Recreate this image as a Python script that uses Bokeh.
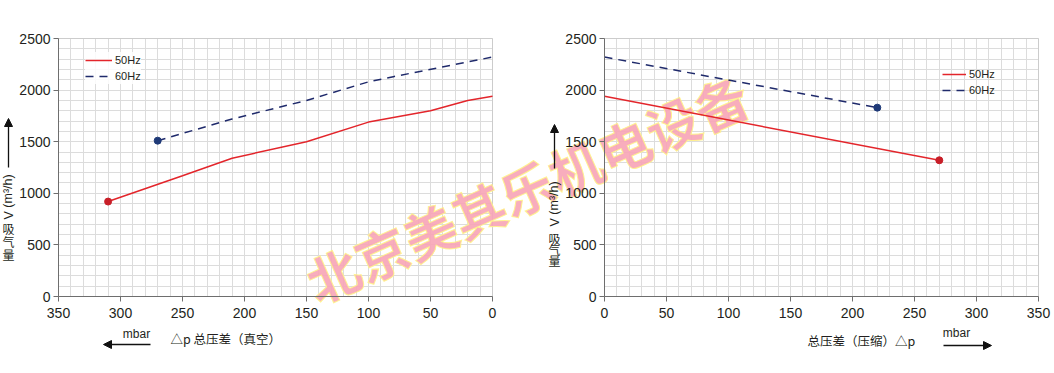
from bokeh.plotting import figure
from bokeh.models import (Range1d, SingleIntervalTicker, Label, Arrow, NormalHead,
                          Legend, LegendItem, LinearAxis, Grid, BoxAnnotation)
from bokeh.embed import file_html
from bokeh.resources import INLINE

# ---- data ----
vac_50_dp = [310, 250, 210, 150, 100, 50, 20, 0]
vac_50_q = [920, 1170, 1340, 1500, 1690, 1800, 1900, 1940]
vac_60_dp = [270, 210, 150, 100, 80, 0]
vac_60_q = [1510, 1720, 1900, 2080, 2130, 2320]

cmp_50_dp = [0, 270]
cmp_50_q = [1940, 1320]
cmp_60_dp = [0, 220]
cmp_60_q = [2320, 1830]

x_ticks = [0, 50, 100, 150, 200, 250, 300, 350]
y_ticks = [0, 500, 1000, 1500, 2000, 2500]
X_MAX, Y_MAX = 350, 2500
series_names = ["50Hz", "60Hz"]
watermark = "北京美其乐机电设备"

# ---- layout (pixels) ----
W, H = 1054, 373
BOX_T, BOX_B = 38, 296
L_X0, L_X1 = 58, 492      # left panel box (x=350 .. x=0)
R_X0, R_X1 = 604, 1038    # right panel box (x=0 .. x=350)

RED = "#e3252b"
NAVY = "#1f2a6b"
FONT = "Liberation Sans"
CJK = "Noto Sans CJK SC"
GRID = "#dcdcdc"
AXIS = "#6e6e6e"

ppx = (L_X1 - L_X0) / X_MAX
ppy = (BOX_B - BOX_T) / Y_MAX
xr_left = Range1d(X_MAX + L_X0 / ppx, X_MAX - (W - L_X0) / ppx)
xr_right = Range1d(-R_X0 / ppx, (W - R_X0) / ppx)
yr = Range1d(-(H - BOX_B) / ppy, Y_MAX + BOX_T / ppy)

p = figure(width=W, height=H, x_range=xr_left, y_range=yr, title=None,
           output_backend="svg", toolbar_location=None, min_border=0)
p.extra_x_ranges = {"right": xr_right}
p.outline_line_color = None
p.background_fill_color = "white"
p.border_fill_color = "white"
p.grid.visible = False

# axes
xa_l, ya_l = p.xaxis[0], p.yaxis[0]
xa_r = LinearAxis(x_range_name="right")
ya_r = LinearAxis(x_range_name="right")
p.add_layout(xa_r, "below")
p.add_layout(ya_r, "left")
xa_l.fixed_location = 0
xa_r.fixed_location = 0
ya_l.fixed_location = X_MAX
ya_r.fixed_location = 0
for ax in (xa_l, xa_r):
    ax.ticker = x_ticks
    ax.bounds = (0, X_MAX)
    ax.major_label_standoff = 6
for ax in (ya_l, ya_r):
    ax.ticker = y_ticks
    ax.bounds = (0, Y_MAX)
    ax.major_label_standoff = 3
for ax in (xa_l, xa_r, ya_l, ya_r):
    ax.axis_line_color = AXIS
    ax.major_tick_line_color = AXIS
    ax.major_tick_out = 5
    ax.major_tick_in = 0
    ax.minor_tick_line_color = None
    ax.major_label_text_font = FONT
    ax.major_label_text_font_size = "14px"
    ax.major_label_text_color = "#231f20"

# grids
need_masks = False
for xname in ("default", "right"):
    for dim, step, bnd, cross in ((0, 10, (0, X_MAX), (0, Y_MAX)),
                                  (1, 100, (0, Y_MAX), (0, X_MAX))):
        g = Grid(dimension=dim, ticker=SingleIntervalTicker(interval=step),
                 bounds=bnd, x_range_name=xname, grid_line_color=GRID,
                 grid_line_width=1, level="image")
        try:
            g.cross_bounds = cross
        except Exception:
            need_masks = True
        p.add_layout(g)

if need_masks:
    gap_left = -(R_X0 - L_X1) / ppx
    masks = [BoxAnnotation(bottom=Y_MAX), BoxAnnotation(top=0),
             BoxAnnotation(right=X_MAX),
             BoxAnnotation(left=gap_left, right=0, x_range_name="right"),
             BoxAnnotation(left=X_MAX, x_range_name="right")]
    for m in masks:
        m.fill_color = "white"
        m.fill_alpha = 1
        m.line_color = None
        m.level = "underlay"
        p.add_layout(m)

for xname in ("default", "right"):
    p.add_layout(BoxAnnotation(left=0, right=X_MAX, bottom=0, top=Y_MAX,
                               x_range_name=xname, fill_alpha=0,
                               line_color="#aaaaaa", line_width=1,
                               level="underlay"))


def lab(x, y, text, font=CJK, size="12px", angle=0, align="center",
        baseline="middle", color="#231f20", **kw):
    p.add_layout(Label(x=x, y=y, x_units="canvas", y_units="canvas", text=text,
                       text_font=font, text_font_size=size, angle=angle,
                       text_align=align, text_baseline=baseline,
                       text_color=color, **kw))


# watermark: under the curves and axes, over the grid
wm = dict(text_alpha=0.9, level="underlay", text_font_style="bold")
try:
    Label(text="x", text_outline_color="#fff07a")
    wm["text_outline_color"] = "#fff38a"
except Exception:
    pass
lab(526, 187, watermark, size="53px", angle=0.417, color="#f7a4b6", **wm)

# ---- left: vacuum ----
r1 = p.line(vac_50_dp, vac_50_q, line_color=RED, line_width=1.5)
r2 = p.line(vac_60_dp, vac_60_q, line_color=NAVY, line_width=1.5, line_dash="8 6")
p.scatter(vac_50_dp[:1], vac_50_q[:1], size=7, fill_color="#c81e28", line_color="#c81e28")
p.scatter(vac_60_dp[:1], vac_60_q[:1], size=7, fill_color="#1f3a78", line_color="#1f3a78")

# ---- right: compression ----
s1 = p.line(cmp_50_dp, cmp_50_q, line_color=RED, line_width=1.5, x_range_name="right")
s2 = p.line(cmp_60_dp, cmp_60_q, line_color=NAVY, line_width=1.5, line_dash="8 6",
            x_range_name="right")
p.scatter(cmp_50_dp[-1:], cmp_50_q[-1:], size=7, fill_color="#c81e28",
          line_color="#c81e28", x_range_name="right")
p.scatter(cmp_60_dp[-1:], cmp_60_q[-1:], size=7, fill_color="#1f3a78",
          line_color="#1f3a78", x_range_name="right")


def legend(rs, loc, gw, alpha):
    return Legend(items=[LegendItem(label=series_names[0], renderers=[rs[0]]),
                         LegendItem(label=series_names[1], renderers=[rs[1]])],
                  location=loc, glyph_width=gw, glyph_height=16,
                  label_height=16, spacing=0, padding=6, margin=0,
                  label_standoff=3, label_text_font=FONT,
                  label_text_font_size="11px", label_text_color="#231f20",
                  border_line_color=None, background_fill_alpha=alpha)


p.add_layout(legend([r1, r2], (85, 289), 27, 0.85))
p.add_layout(legend([s1, s2], (942, 275), 24, 0.0))


def arrow(x0, y0, x1, y1):
    p.add_layout(Arrow(x_start=x0, y_start=H - y0, x_end=x1, y_end=H - y1,
                       start_units="screen", end_units="screen",
                       line_color="#111111", line_width=1.3,
                       end=NormalHead(size=8, fill_color="#111111",
                                      line_color="#111111", line_width=1)))


# y-axis titles
for cx, ys, vstart in ((8, (228, 241, 254), 219), (554, (238, 249, 260), 226)):
    for ch, yy in zip("吸气量", ys):
        lab(cx, yy, ch)
    lab(cx, vstart, "V (m³/h)", font=FONT, size="12.5px", angle=1.5708, align="left")
arrow(8, 167, 8, 118)
arrow(554, 168, 554, 124)

# x-axis titles
lab(170, 338, "△p  总压差（真空）", size="12.5px", align="left")
lab(136, 333, "mbar", font=FONT)
arrow(150, 344, 103, 344)
lab(807, 340, "总压差（压缩）△p", size="12.5px", align="left")
lab(956, 332, "mbar", font=FONT)
arrow(943, 345, 991, 345)

open("out.html", "w").write(file_html(p, INLINE))
